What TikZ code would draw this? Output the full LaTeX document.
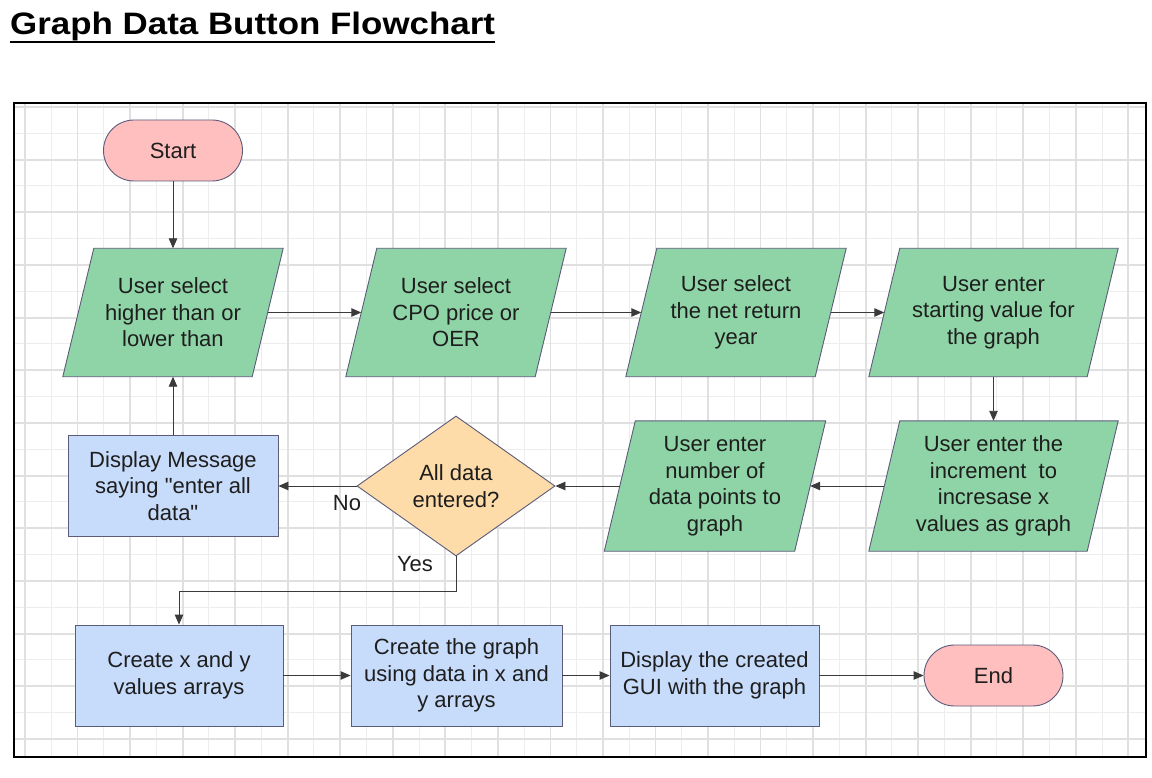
\documentclass[tikz,border=0pt]{standalone}
\usepackage{fontspec}
\setmainfont{Liberation Sans}[Ligatures=TeXOff]
\usetikzlibrary{shapes.geometric,arrows.meta,calc}
\definecolor{pinkc}{HTML}{FFBFBF}
\definecolor{greenc}{HTML}{8FD4A6}
\definecolor{bluec}{HTML}{C7DBFB}
\definecolor{orangec}{HTML}{FDDCA9}
\definecolor{bordc}{HTML}{5B5B7A}
\definecolor{linec}{HTML}{3A3A3A}
\definecolor{textc}{HTML}{1E1E1E}
\definecolor{gridthinc}{HTML}{EDEDED}
\definecolor{gridthickc}{HTML}{E0E0E0}
\pgfdeclarelayer{back}
\pgfsetlayers{back,main}
\newcommand\txt{\fontsize{22}{26.5}\selectfont}
\newcommand\drawpara[1]{%
  \begin{pgfonlayer}{back}
  \draw[draw=bordc, fill=greenc, line width=0.9pt]
    ([xshift=15.5pt]#1.north west) -- ([xshift=15.5pt]#1.north east) --
    ([xshift=-15.5pt]#1.south east) -- ([xshift=-15.5pt]#1.south west) -- cycle;
  \end{pgfonlayer}}
\begin{document}
\begin{tikzpicture}[x=1pt,y=-1pt,
  every node/.style={text=textc},
  term/.style={draw=bordc, fill=pinkc, line width=0.9pt, rounded corners=30.5pt,
    minimum width=139pt, minimum height=61pt, inner sep=0pt, font=\txt},
  io/.style={minimum width=189pt, minimum height=128pt, inner sep=0pt,
    align=center, font=\txt},
  proc/.style={draw=bordc, fill=bluec, line width=0.9pt, minimum width=209pt,
    minimum height=101pt, inner sep=0pt, align=center, font=\txt},
  decis/.style={diamond, aspect=1.414, draw=bordc, fill=orangec, line width=0.9pt,
    minimum width=198pt, minimum height=140pt, inner sep=0pt, align=center, font=\txt},
  lab/.style={font=\txt, inner sep=0pt},
  arr/.style={draw=linec, line width=0.9pt, -{Triangle[length=10pt,width=8.5pt]}},
  gthin/.style={draw=gridthinc, line width=1pt},
  gthick/.style={draw=gridthickc, line width=1.8pt}
]
\useasboundingbox (0,0) rectangle (1152,778);
\begin{pgfonlayer}{back}
  \fill[white] (0,0) rectangle (1152,778);
  \foreach \i in {1,3,...,41} {\draw[gthin] ({25+26.27*\i},103) -- ({25+26.27*\i},757);}
  \foreach \j in {1,3,...,23} {\draw[gthin] (14,{107+26.33*\j}) -- (1146,{107+26.33*\j});}
  \foreach \i in {0,2,...,42} {\draw[gthick] ({25+26.27*\i},103) -- ({25+26.27*\i},757);}
  \foreach \j in {0,2,...,24} {\draw[gthick] (14,{107+26.33*\j}) -- (1146,{107+26.33*\j});}
  \draw[black, line width=2pt] (14,103) rectangle (1146,757);
\end{pgfonlayer}

% title
\node[anchor=base west, inner sep=0pt, font=\fontsize{31}{36}\selectfont\bfseries, text=black]
  (title) at (10,35) {\scalebox{1.126}[1]{Graph Data Button Flowchart}};
\draw[black, line width=2.6pt] ($(title.base west)+(0,7)$) -- ($(title.base east)+(0,7)$);

% nodes
\node[term] (start) at (173,150.5) {Start};
\node[io] (p1) at (173,312.5) {User select\\higher than or\\lower than};
\node[io] (p2) at (456,312.5) {User select\\CPO price or\\OER};
\node[io] (p3) at (736,312.5) {User select\\the net return\\year};
\node[io, minimum width=218pt] (p4) at (993.5,312.5) {User enter\\starting value for\\the graph};
\node[io, minimum width=218pt, minimum height=130pt] (inc) at (993.5,486) {User enter the\\increment\ \ to\\incresase x\\values as graph};
\node[io, minimum width=190pt, minimum height=130pt] (pts) at (715,486) {User enter\\number of\\data points to\\graph};
\node[decis] (dec) at (456,486) {All data\\entered?};
\node[proc, minimum width=210pt] (msg) at (173,486) {Display Message\\saying "enter all\\data"};
\node[proc, minimum width=208pt] (cx) at (179,675.5) {Create x and y\\values arrays};
\node[proc, minimum width=211pt] (gr) at (456.5,675.5) {Create the graph\\using data in x and\\y arrays};
\node[proc] (disp) at (714.5,675.5) {Display the created\\GUI with the graph};
\node[term] (end) at (993.5,675.5) {End};

\drawpara{p1}
\drawpara{p2}
\drawpara{p3}
\drawpara{p4}
\drawpara{inc}
\drawpara{pts}

% labels
\node[lab] (nolab) at (347,503) {No};
\node[lab] (yeslab) at (415,564) {Yes};

% connectors
\coordinate (ybend) at (456,591);
\draw[arr] (start.south) -- (p1.north);
\draw[arr] (p1.east) -- (p2.west);
\draw[arr] (p2.east) -- (p3.west);
\draw[arr] (p3.east) -- (p4.west);
\draw[arr] (p4.south) -- (inc.north);
\draw[arr] (inc.west) -- (pts.east);
\draw[arr] (pts.west) -- (dec.east);
\draw[arr] (dec.west) -- (msg.east);
\draw[arr] (msg.north) -- (p1.south);
\draw[arr] (dec.south) -- (ybend) -| (cx.north);
\draw[arr] (cx.east) -- (gr.west);
\draw[arr] (gr.east) -- (disp.west);
\draw[arr] (disp.east) -- (end.west);
\end{tikzpicture}
\end{document}
